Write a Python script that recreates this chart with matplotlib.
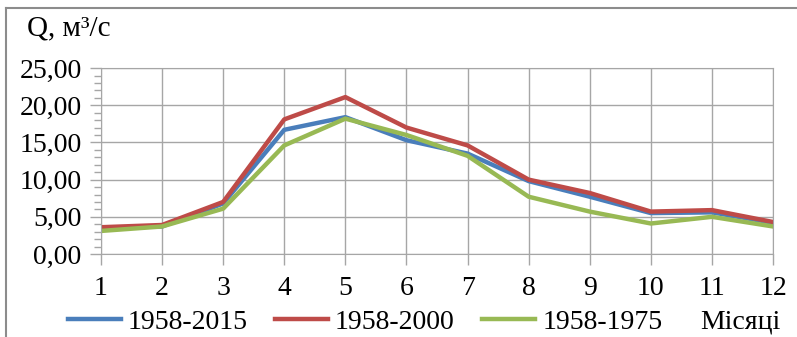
import matplotlib.pyplot as plt
from matplotlib.lines import Line2D
from matplotlib.ticker import MultipleLocator, FuncFormatter

plt.rcParams['font.family'] = ['Liberation Serif', 'DejaVu Serif']

months = list(range(1, 13))
q_1958_2015 = [3.5, 3.7, 6.8, 16.7, 18.4, 15.3, 13.5, 9.8, 7.7, 5.5, 5.6, 4.2]
q_1958_2000 = [3.6, 3.9, 7.0, 18.1, 21.1, 17.0, 14.6, 10.0, 8.2, 5.7, 5.9, 4.3]
q_1958_1975 = [3.1, 3.7, 6.1, 14.6, 18.2, 16.0, 13.2, 7.7, 5.7, 4.1, 5.0, 3.7]

fig = plt.figure(figsize=(7.97, 3.37), dpi=100)
ax = fig.add_axes([0.1267, 0.2463, 0.8433, 0.5517])

ax.plot(months, q_1958_2015, color='#4a7ebb', lw=3.2, label='1958-2015')
ax.plot(months, q_1958_2000, color='#be4b48', lw=3.2, label='1958-2000')
ax.plot(months, q_1958_1975, color='#98b954', lw=3.2, label='1958-1975')

ax.set_xlim(1, 12)
ax.set_ylim(0, 25)
ax.set_xticks(months)
ax.yaxis.set_major_locator(MultipleLocator(5))
ax.yaxis.set_minor_locator(MultipleLocator(1))
ax.yaxis.set_major_formatter(FuncFormatter(lambda v, p: f'{v:.2f}'.replace('.', ',')))
ax.grid(True, which='major', color='#a6a6a6', lw=1)
for s in ax.spines.values():
    s.set_color('#a6a6a6')
ax.tick_params(axis='both', which='major', colors='#a6a6a6', labelcolor='black',
               labelsize=20, length=8, width=1)
ax.tick_params(axis='y', which='minor', colors='#a6a6a6', length=5, width=1)
ax.tick_params(axis='x', pad=8)
ax.tick_params(axis='y', pad=6)

fig.legend(loc='center', bbox_to_anchor=(0.458, 0.045), ncol=3, frameon=False,
           fontsize=20, handlelength=1.9, columnspacing=1.0, handletextpad=0.25,
           borderpad=0, borderaxespad=0)
fig.text(0.878, 0.045, 'Місяці', fontsize=20, va='center', ha='left')
fig.text(0.034, 0.915, 'Q, м³/с', fontsize=21, va='center', ha='left')

# outer frame (left and top only visible)
fig.add_artist(Line2D([0.007, 0.007], [0, 0.975], color='#8c8c8c', lw=1.5))
fig.add_artist(Line2D([0.007, 1.0], [0.975, 0.975], color='#8c8c8c', lw=1.5))

fig.savefig('out.png', dpi=100)
